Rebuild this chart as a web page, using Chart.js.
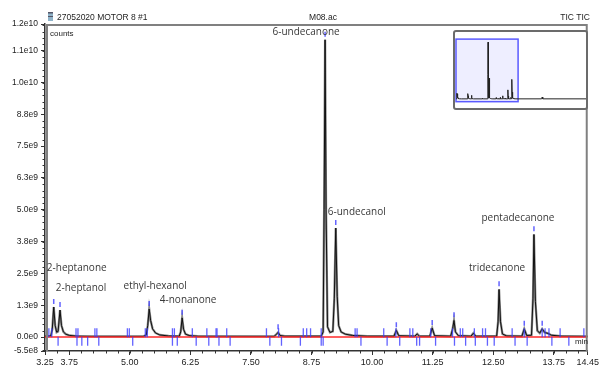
<!DOCTYPE html>
<html>
<head>
<meta charset="utf-8">
<script src="https://cdn.jsdelivr.net/npm/chart.js@4.4.0/dist/chart.umd.min.js"></script>
<style>
  html, body { margin: 0; padding: 0; background: #fff; }
  #wrap { position: relative; width: 601px; height: 367px; }
  #inset { position: absolute; left: 453px; top: 30px; width: 135px; height: 80px;
           border: 2px solid #6b6b6b; border-radius: 3px; box-sizing: border-box; background: #fff; }
  #inset canvas { display: block; }
</style>
</head>
<body>
<div id="wrap">
  <canvas id="myChart" width="601" height="367"></canvas>
  <div id="inset"><canvas id="overview" width="131" height="76"></canvas></div>
</div>
<script>
// axis ranges and tick labels
const xMin = 3.25, xMax = 14.45;
const yMin = -5.5e8, yMax = 1.23e10;
const xTickValues = [3.25, 3.75, 5.00, 6.25, 7.50, 8.75, 10.00, 11.25, 12.50, 13.75, 14.45];
const xTickLabels = ['3.25', '3.75', '5.00', '6.25', '7.50', '8.75', '10.00', '11.25', '12.50', '13.75', '14.45'];
const yTickValues = [-5.5e8, 0, 1.25e9, 2.5e9, 3.75e9, 5e9, 6.25e9, 7.5e9, 8.75e9, 1e10, 1.125e10, 1.23e10];
const yTickLabels = ['-5.5e8', '0.0e0', '1.3e9', '2.5e9', '3.8e9', '5.0e9', '6.3e9', '7.5e9', '8.8e9', '1.0e10', '1.1e10', '1.2e10'];

// TIC trace (min, counts)
const times = [3.25, 3.37, 3.40, 3.43, 3.46, 3.49, 3.52, 3.56, 3.59, 3.63, 3.68, 3.76, 3.90, 4.20,
  5.28, 5.34, 5.37, 5.40, 5.43, 5.47, 5.53, 5.62, 5.80, 6.02, 6.05, 6.08, 6.11, 6.15, 6.24, 6.40,
  7.98, 8.03, 8.06, 8.10, 8.20, 8.95, 8.99, 9.01, 9.03, 9.05, 9.08, 9.13, 9.19, 9.22, 9.25, 9.28,
  9.31, 9.36, 9.45, 9.60, 9.90, 10.45, 10.50, 10.55, 10.88, 10.93, 10.98, 11.19, 11.24, 11.29,
  11.62, 11.66, 11.69, 11.72, 11.78, 12.04, 12.09, 12.14, 12.57, 12.60, 12.62, 12.65, 12.69, 12.78,
  13.09, 13.14, 13.19, 13.29, 13.32, 13.34, 13.37, 13.41, 13.46, 13.51, 13.56, 13.63, 13.70, 13.90, 14.45];
const signal = [3e7, 4e7, 3.0e8, 1.18e9, 4.5e8, 1.9e8, 2.2e8, 1.06e9, 4.5e8, 2.0e8, 1.1e8, 6e7, 3.5e7, 2.5e7,
  2.5e7, 8e7, 4.5e8, 1.1e9, 6.5e8, 3.2e8, 1.6e8, 8e7, 4e7, 3e7, 2e8, 7.5e8, 3e8, 1.1e8, 5e7, 3e7,
  2.5e7, 1.2e8, 1.8e8, 6e7, 3e7, 3e7, 2.0e8, 5e9, 1.168e10, 5e9, 4e8, 1.8e8, 2.2e8, 1.5e9, 4.28e9, 1.6e9,
  4.5e8, 2e8, 1.1e8, 6e7, 3e7, 3e7, 2.6e8, 5e7, 3e7, 1.2e8, 3e7, 3e7, 3.5e8, 5e7,
  3e7, 3e8, 6.5e8, 2e8, 5e7, 3e7, 1.5e8, 3e7, 3e7, 6e8, 1.87e9, 6e8, 1.2e8, 4e7,
  3e7, 3.2e8, 6e7, 7e7, 1.5e9, 4.03e9, 1.4e9, 2.5e8, 1.5e8, 3.2e8, 1.8e8, 1.4e8, 7e7, 3.5e7, 2.5e7];

// rest of the run, only seen in the overview
const overviewTimes = [18.70, 18.80, 18.90, 26.70];
const overviewValues = [3e7, 4e8, 3e7, 2.5e7];

// named peaks
const peakNames = ['2-heptanone', '2-heptanol', 'ethyl-hexanol', '4-nonanone', '6-undecanone', '6-undecanol', 'tridecanone', 'pentadecanone'];
const peakTimes = [3.43, 3.56, 5.40, 6.08, 9.03, 9.25, 12.62, 13.34];
const peakApex = [1.18e9, 1.06e9, 1.1e9, 7.5e8, 1.168e10, 4.28e9, 1.87e9, 4.03e9];
const smallPeakTimes = [8.06, 10.50, 11.24, 11.69, 13.14, 13.51];
const smallPeakApex = [1.8e8, 2.6e8, 3.5e8, 6.5e8, 3.2e8, 3.2e8];

// integration markers
const markUpTimes = [3.33, 3.39, 3.89, 3.93, 4.28, 4.32, 4.95, 4.99, 5.32, 5.36, 5.88, 5.92, 6.29, 6.59, 6.78, 6.80,
  7.00, 7.82, 8.07, 8.58, 8.65, 8.73, 8.95, 9.65, 9.69, 10.24, 10.49, 10.78, 10.84, 11.21, 11.66, 11.82, 11.87,
  12.11, 12.28, 12.34, 12.89, 13.14, 13.51, 13.57, 13.65, 13.88, 14.37];
const markDownTimes = [3.29, 3.52, 3.91, 4.01, 4.13, 4.36, 5.06, 5.88, 5.98, 6.37, 6.63, 6.84, 7.07, 7.89, 8.13,
  8.52, 8.95, 8.99, 9.77, 10.31, 10.57, 10.92, 10.98, 11.31, 11.70, 11.93, 12.13, 12.38, 12.52, 12.95, 13.20, 13.71, 14.06];

// label placement (px from apex)
const labelDx = [23, 21, 6, 6, -19, 21, -2, -16];
const labelDy = [-39, -22, -23, -18, -8, -16, -21, -16];

const trace = times.map((t, i) => ({x: t, y: signal[i]}));
const markColor = 'rgba(60,60,255,0.8)';

Chart.defaults.font.family = '"Liberation Sans", Arial, sans-serif';
Chart.defaults.color = '#222';

const decor = {
  id: 'decor',
  afterDraw(chart) {
    const ctx = chart.ctx, ca = chart.chartArea;
    const xs = chart.scales.x, ys = chart.scales.y;
    ctx.save();
    // plot frame
    ctx.strokeStyle = '#808080';
    ctx.lineWidth = 2;
    ctx.beginPath();
    ctx.moveTo(ca.left + 2, ca.bottom);
    ctx.lineTo(ca.left + 2, ca.top + 1);
    ctx.lineTo(ca.right - 1, ca.top + 1);
    ctx.lineTo(ca.right - 1, ca.bottom);
    ctx.stroke();
    // minor ticks
    ctx.strokeStyle = '#333';
    ctx.lineWidth = 1;
    ctx.beginPath();
    for (let v = yMin; v <= yMax; v += 2.5e8) {
      const y = Math.round(ys.getPixelForValue(Math.ceil(v / 2.5e8) * 2.5e8)) + 0.5;
      ctx.moveTo(ca.left - 2.5, y); ctx.lineTo(ca.left, y);
    }
    for (let t = xMin; t <= xMax; t += 0.25) {
      const x = Math.round(xs.getPixelForValue(t)) + 0.5;
      ctx.moveTo(x, ca.bottom); ctx.lineTo(x, ca.bottom + 2.5);
    }
    ctx.stroke();
    // header
    ctx.fillStyle = '#8fb3c9';
    ctx.fillRect(48, 12, 5, 9);
    ctx.fillStyle = '#556';
    ctx.fillRect(48, 12, 5, 1.5);
    ctx.fillRect(48, 16, 5, 1);
    ctx.fillStyle = '#1e1e1e';
    ctx.font = '8.5px "Liberation Sans", Arial';
    ctx.textBaseline = 'middle';
    ctx.textAlign = 'left';
    ctx.fillText('27052020 MOTOR 8 #1', 57, 17.5);
    ctx.textAlign = 'center';
    ctx.fillText('M08.ac', 323, 17.5);
    ctx.textAlign = 'right';
    ctx.fillText('TIC TIC', 590, 17.5);
    ctx.textAlign = 'left';
    ctx.font = '8px "Liberation Sans", Arial';
    ctx.fillText('counts', 50, 33.5);
    ctx.fillText('min', 575, 342);
    // peak labels
    ctx.fillStyle = '#383838';
    ctx.font = '10px "Open Sans", sans-serif';
    ctx.textAlign = 'center';
    peakNames.forEach((name, i) => {
      const px = xs.getPixelForValue(peakTimes[i]) + labelDx[i];
      const py = ys.getPixelForValue(peakApex[i]) + labelDy[i];
      ctx.fillText(name, px, py);
    });
    ctx.restore();
  }
};

new Chart(document.getElementById('myChart'), {
  type: 'line',
  data: {
    datasets: [
      { label: 'marks up', type: 'scatter', data: markUpTimes.map(t => ({x: t, y: 1.7e8})),
        pointStyle: 'line', rotation: 90, pointRadius: 4.5, borderColor: markColor, borderWidth: 1.3, order: 0 },
      { label: 'marks down', type: 'scatter', data: markDownTimes.map(t => ({x: t, y: -1.7e8})),
        pointStyle: 'line', rotation: 90, pointRadius: 4.5, borderColor: markColor, borderWidth: 1.3, order: 0 },
      { label: 'apex', type: 'scatter',
        data: peakTimes.map((t, i) => ({x: t, y: peakApex[i] + 2.2e8}))
          .concat(smallPeakTimes.map((t, i) => ({x: t, y: smallPeakApex[i] + 2.2e8}))),
        pointStyle: 'line', rotation: 90, pointRadius: 2.5, borderColor: markColor, borderWidth: 1.5, order: 0 },
      { label: 'baseline', data: [{x: xMin, y: 0}, {x: xMax, y: 0}], borderColor: '#ff2a2a',
        borderWidth: 1.6, pointRadius: 0, order: 1 },
      { label: 'TIC', data: trace, borderColor: '#111', borderWidth: 1, pointRadius: 0, tension: 0, order: 2 },
      { label: 'TIC shade', data: trace, borderColor: '#8a8a8a', borderWidth: 2.3, pointRadius: 0, tension: 0, order: 3 }
    ]
  },
  options: {
    responsive: false,
    animation: false,
    layout: { padding: { top: 24, right: 9, left: 0, bottom: 0 } },
    plugins: { legend: { display: false }, tooltip: { enabled: false } },
    scales: {
      x: {
        type: 'linear', min: xMin, max: xMax,
        afterBuildTicks: s => { s.ticks = xTickValues.map(v => ({value: v})); },
        afterFit: s => { s.height = 16; },
        ticks: { autoSkip: false, maxRotation: 0, padding: 2, font: { size: 9 }, color: '#222',
                 callback: (v, i) => xTickLabels[i] },
        grid: { drawOnChartArea: false, tickLength: 4, tickColor: '#333' },
        border: { color: '#333', width: 1.5 }
      },
      y: {
        min: yMin, max: yMax,
        afterBuildTicks: s => { s.ticks = yTickValues.map(v => ({value: v})); },
        afterFit: s => { s.width = 45; },
        ticks: { autoSkip: false, padding: 3, font: { size: 8.5 }, color: '#222',
                 callback: (v, i) => yTickLabels[i] },
        grid: { drawOnChartArea: false, tickLength: 4, tickColor: '#333' },
        border: { color: '#333', width: 1.5 }
      }
    }
  },
  plugins: [decor]
});

// overview inset with zoom window
const zoomBox = {
  id: 'zoomBox',
  beforeDatasetsDraw(chart) {
    const ctx = chart.ctx, xs = chart.scales.x, ys = chart.scales.y;
    const l = xs.getPixelForValue(xMin), r = xs.getPixelForValue(xMax);
    const t = ys.getPixelForValue(yMax), b = ys.getPixelForValue(yMin);
    ctx.save();
    ctx.fillStyle = 'rgba(226,226,255,0.6)';
    ctx.fillRect(l, t, r - l, b - t);
    ctx.strokeStyle = '#5a5aff';
    ctx.lineWidth = 1.5;
    ctx.strokeRect(l, t, r - l, b - t);
    ctx.restore();
  }
};

new Chart(document.getElementById('overview'), {
  type: 'line',
  data: {
    datasets: [{
      data: trace.concat(overviewTimes.map((t, i) => ({x: t, y: overviewValues[i]}))),
      borderColor: '#222', borderWidth: 1, pointRadius: 0
    }]
  },
  options: {
    responsive: false,
    animation: false,
    layout: { padding: 0 },
    plugins: { legend: { display: false }, tooltip: { enabled: false } },
    scales: {
      x: { type: 'linear', min: 3.07, max: 26.7, display: false },
      y: { min: -1.85e9, max: 1.376e10, display: false }
    }
  },
  plugins: [zoomBox]
});
</script>
</body>
</html>
